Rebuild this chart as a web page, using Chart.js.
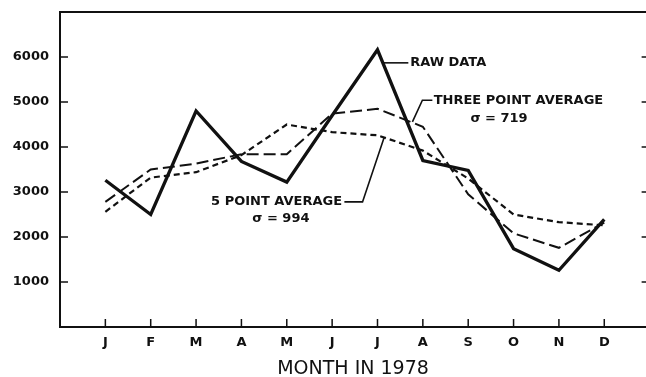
<!DOCTYPE html>
<html>
<head>
<meta charset="utf-8">
<script src="https://cdn.jsdelivr.net/npm/chart.js@4"></script>
<style>
  html, body { margin: 0; padding: 0; background: #fff; overflow: hidden; }
  #wrap { width: 646px; height: 377px; }
</style>
</head>
<body>
<div id="wrap"><canvas id="sales"></canvas></div>
<script>
// 1978年 月別データと移動平均
var months = ["J", "F", "M", "A", "M", "J", "J", "A", "S", "O", "N", "D"];
var rawData = [3260, 2500, 4800, 3680, 3220, 4700, 6160, 3700, 3480, 1740, 1260, 2390];
var threePoint = [2780, 3500, 3630, 3840, 3840, 4740, 4850, 4450, 2950, 2080, 1760, 2320];
var fivePoint = [2560, 3320, 3440, 3820, 4500, 4330, 4260, 3920, 3300, 2500, 2330, 2260];
var yTicks = [1000, 2000, 3000, 4000, 5000, 6000];

var ink = "#111";
var face = "'DejaVu Sans', sans-serif";

function toPoints(values) {
    return values.map(function (v, i) { return { x: i, y: v }; });
}

// 注記（データ座標で指定）
var notes = [
    { text: "RAW DATA", x: 6.72, y: 5870, align: "left", path: [[6.1, 5870], [6.68, 5870]] },
    { text: "THREE POINT AVERAGE", x: 7.24, y: 5040, align: "left", path: [[7.21, 5040], [6.99, 5040], [6.77, 4560]] },
    { text: "\u03c3 = 719", x: 8.68, y: 4640, align: "center" },
    { text: "5 POINT AVERAGE", x: 5.22, y: 2780, align: "right", path: [[5.27, 2780], [5.67, 2780], [6.15, 4220]] },
    { text: "\u03c3 = 994", x: 3.87, y: 2410, align: "center" }
];

// 枠と内向きの目盛り（右端の枠は x=12 の位置、画面外）
var frame = {
    id: "frame",
    afterDraw: function (chart) {
        var ctx = chart.ctx, a = chart.chartArea;
        var xs = chart.scales.x, ys = chart.scales.y;
        var rx = xs.getPixelForValue(12);
        ctx.save();
        ctx.strokeStyle = ink;
        ctx.lineWidth = 2;
        ctx.beginPath();
        ctx.moveTo(rx, a.top);
        ctx.lineTo(a.left, a.top);
        ctx.lineTo(a.left, a.bottom);
        ctx.lineTo(rx, a.bottom);
        ctx.stroke();
        ctx.lineWidth = 1.5;
        ctx.beginPath();
        yTicks.forEach(function (v) {
            var y = ys.getPixelForValue(v);
            ctx.moveTo(a.left, y); ctx.lineTo(a.left + 8, y);
            ctx.moveTo(rx, y); ctx.lineTo(rx - 8, y);
        });
        months.forEach(function (m, i) {
            var x = xs.getPixelForValue(i);
            ctx.moveTo(x, a.bottom); ctx.lineTo(x, a.bottom - 8);
        });
        ctx.stroke();
        ctx.restore();
    }
};

var labels = {
    id: "labels",
    afterDraw: function (chart) {
        var ctx = chart.ctx;
        var xs = chart.scales.x, ys = chart.scales.y;
        ctx.save();
        ctx.strokeStyle = ink;
        ctx.fillStyle = ink;
        ctx.lineWidth = 1.6;
        ctx.font = "bold 13px " + face;
        ctx.textBaseline = "middle";
        notes.forEach(function (n) {
            if (n.path) {
                ctx.beginPath();
                n.path.forEach(function (p, i) {
                    var px = xs.getPixelForValue(p[0]), py = ys.getPixelForValue(p[1]);
                    if (i === 0) ctx.moveTo(px, py); else ctx.lineTo(px, py);
                });
                ctx.stroke();
            }
            ctx.textAlign = n.align;
            ctx.fillText(n.text, xs.getPixelForValue(n.x), ys.getPixelForValue(n.y));
        });
        ctx.restore();
    }
};

new Chart(document.getElementById("sales"), {
    type: "line",
    data: {
        datasets: [
            {
                label: "RAW DATA",
                data: toPoints(rawData),
                borderColor: ink,
                borderWidth: 3.3,
                pointRadius: 0
            },
            {
                label: "THREE POINT AVERAGE",
                data: toPoints(threePoint),
                borderColor: ink,
                borderWidth: 2,
                borderDash: [12, 5],
                pointRadius: 0
            },
            {
                label: "5 POINT AVERAGE",
                data: toPoints(fivePoint),
                borderColor: ink,
                borderWidth: 2.2,
                borderDash: [6, 4],
                pointRadius: 0
            }
        ]
    },
    options: {
        responsive: true,
        maintainAspectRatio: false,
        animation: false,
        layout: { padding: { top: 12, right: 0, left: 0, bottom: 0 } },
        plugins: {
            legend: { display: false },
            tooltip: { enabled: false }
        },
        scales: {
            x: {
                type: "linear",
                min: -1,
                max: 11.92,
                afterBuildTicks: function (scale) {
                    scale.ticks = months.map(function (m, i) { return { value: i }; });
                },
                afterFit: function (scale) {
                    scale.height = 50;
                    scale.paddingLeft = 0;
                    scale.paddingRight = 0;
                },
                ticks: {
                    callback: function (v) { return months[v]; },
                    font: { family: face, size: 13, weight: "bold" },
                    color: ink,
                    padding: 8,
                    maxRotation: 0,
                    autoSkip: false
                },
                grid: { display: false, drawTicks: false },
                border: { display: false },
                title: {
                    display: true,
                    text: "MONTH IN 1978",
                    font: { family: face, size: 19, lineHeight: 0.85 },
                    color: ink,
                    padding: { top: 0, bottom: 0 }
                }
            },
            y: {
                min: 0,
                max: 7000,
                afterBuildTicks: function (scale) {
                    scale.ticks = yTicks.map(function (v) { return { value: v }; });
                },
                afterFit: function (scale) {
                    scale.width = 60;
                    scale.paddingTop = 0;
                    scale.paddingBottom = 0;
                },
                ticks: {
                    callback: function (v) { return String(v); },
                    font: { family: face, size: 13, weight: "bold" },
                    color: ink,
                    padding: 11
                },
                grid: { display: false, drawTicks: false },
                border: { display: false }
            }
        }
    },
    plugins: [frame, labels]
});
</script>
</body>
</html>
